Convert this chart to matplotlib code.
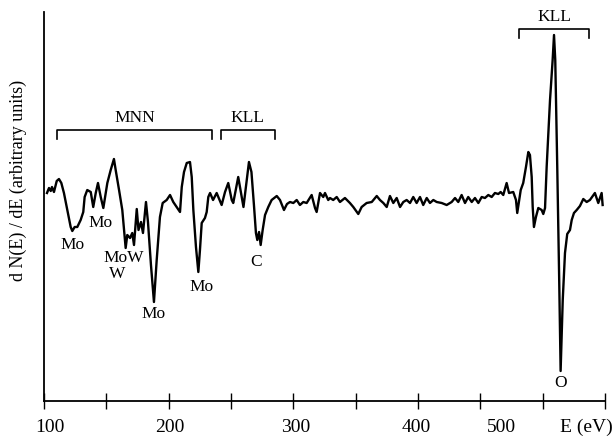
import numpy as np
import matplotlib
matplotlib.use("Agg")
import matplotlib.pyplot as plt

# ==================================
# Data
# ==================================

energy = [
    102.4, 104.0, 105.4, 106.4, 108.0, 110.2, 112.0, 113.9, 116.0, 118.7,
    121.4, 122.7, 124.6, 126.7, 129.4, 131.5, 132.6, 134.7, 137.5, 139.5,
    141.5, 143.3, 145.5, 147.6, 150.8, 153.5, 156.1, 157.5, 160.2, 162.8,
    164.7, 165.5, 166.8, 169.0, 170.8, 172.2, 174.4, 175.8, 177.8, 179.4,
    181.8, 183.4, 185.8, 188.2, 190.4, 193.0, 195.2, 198.4, 201.1, 203.7,
    206.4, 209.1, 210.5, 212.3, 214.5, 217.1, 218.5, 219.8, 221.9, 223.8,
    225.1, 226.5, 229.1, 230.5, 231.8, 233.2, 235.6, 238.5, 242.5, 245.2,
    247.8, 250.6, 251.8, 255.8, 260.0, 264.4, 266.4, 268.4, 270.0, 271.1,
    272.5, 273.8, 275.4, 277.3, 279.9, 282.6, 286.7, 289.3, 292.5, 294.9,
    297.3, 300.0, 302.7, 305.3, 308.0, 310.7, 314.7, 317.4, 318.7, 321.4,
    324.0, 325.4, 328.0, 329.4, 332.0, 334.8, 337.4, 341.4, 345.4, 348.1,
    352.1, 354.8, 358.8, 362.9, 366.9, 369.5, 372.2, 374.9, 377.5, 380.2,
    382.9, 385.6, 388.2, 390.9, 393.6, 396.2, 398.9, 401.6, 404.2, 407.0,
    409.6, 412.3, 415.0, 419.0, 423.0, 427.0, 429.7, 432.3, 435.0, 437.7,
    440.3, 443.1, 445.7, 448.4, 451.1, 453.7, 456.4, 459.1, 461.7, 464.4,
    466.3, 468.4, 471.1, 473.0, 476.4, 478.6, 479.6, 481.2, 482.4, 484.4,
    486.6, 488.5, 489.8, 491.2, 492.0, 493.0, 494.6, 496.5, 499.2, 500.5,
    501.9, 503.2, 505.9, 508.0, 509.1, 510.1, 511.7, 513.3, 514.4, 516.1,
    517.9, 519.7, 521.9, 523.3, 525.1, 527.3, 529.9, 532.6, 535.3, 537.9,
    541.9, 544.6, 547.3, 548.1,
]

signal = [
    7, 12, 9, 13, 8, 19, 21, 17, 7, -10,
    -27, -31, -27, -27, -20, -12, 3, 10, 8, -7,
    7, 17, 3, -8, 17, 30, 41, 30, 10, -10,
    -37, -48, -35, -38, -33, -45, -9, -30, -22, -33,
    -2, -22, -65, -102, -60, -17, -3, 0, 5, -2,
    -7, -12, 13, 28, 37, 38, 23, -10, -47, -72,
    -50, -23, -18, -12, 3, 7, 0, 7, -5, 8,
    17, 0, -3, 23, -7, 38, 28, -5, -33, -40,
    -32, -45, -30, -15, -7, 0, 4, 0, -10, -4,
    -2, -3, 0, -5, -2, -3, 5, -8, -12, 7,
    3, 7, 0, 2, 0, 3, -2, 2, -3, -7,
    -14, -7, -3, -2, 4, 0, -3, -7, 4, -3,
    2, -7, -2, 0, -3, 3, -3, 3, -5, 2,
    -3, 0, -2, -3, -5, -2, 2, -2, 5, -3,
    3, -2, 2, -3, 3, 2, 5, 3, 7, 6,
    8, 5, 17, 7, 8, 0, -13, 0, 10, 17,
    33, 48, 45, 23, -7, -27, -17, -8, -10, -14,
    -8, 33, 100, 140, 165, 140, 33, -83, -171, -100,
    -53, -34, -30, -20, -13, -10, -6, 1, -2, 0,
    7, -3, 7, -5,
]

# peak assignments: (label, energy, level)
peak_labels = ["Mo", "Mo", "MoW", "W", "Mo", "Mo", "C", "O"]
peak_energy = [123.0, 145.5, 163.6, 158.8, 188.2, 226.5, 270.0, 514.4]
peak_level = [-45, -23, -58, -74, -114, -87, -62, -183]

# transition brackets: (label, start, end)
group_labels = ["MNN", "KLL", "KLL"]
group_start = [110.7, 241.7, 481.2]
group_end = [235.0, 285.3, 537.4]
group_level = [70, 70, 171]

tick_pos = list(range(100, 551, 50))
label_text = ["100", "200", "300", "400", "500", "E (eV)"]
label_pos = [104.8, 201.0, 302.0, 398.4, 466.6, 534.7]

# ==================================
# Figure
# ==================================

plt.rcParams["font.family"] = ["Liberation Serif", "DejaVu Serif"]

fig = plt.figure(figsize=(6.16, 4.44), dpi=100)
ax = fig.add_axes([44 / 616, 1 - 401 / 444, (605 - 44) / 616, (401 - 12) / 444])

ax.plot(energy, signal, color="black", lw=1.7, solid_joinstyle="round")

ax.set_xlim(100, 550)
ax.set_ylim(-201, 188)

for s in ["top", "right"]:
    ax.spines[s].set_visible(False)
ax.spines["left"].set_linewidth(1.3)
ax.spines["bottom"].set_linewidth(1.3)

ax.set_yticks([])
ax.set_xticks(tick_pos)
ax.set_xticklabels([])
ax.tick_params(axis="x", direction="inout", length=11, width=1.0)

trans = ax.get_xaxis_transform()
for txt, xp in zip(label_text, label_pos):
    ax.text(xp, -0.069, txt, transform=trans, ha="center", va="center",
            fontsize=14, clip_on=False)

# peak labels
for txt, xp, yp in zip(peak_labels, peak_energy, peak_level):
    ax.text(xp, yp, txt, ha="center", va="center", fontsize=12.5)

# brackets
for txt, x0, x1, yb in zip(group_labels, group_start, group_end, group_level):
    ax.plot([x0, x0, x1, x1], [yb - 9, yb, yb, yb - 9], color="black", lw=1.2,
            clip_on=False)
    ax.text((x0 + x1) / 2, yb + 12, txt, ha="center", va="center",
            fontsize=12.5)

fig.text(18 / 616, 1 - 180 / 444, "d N(E) / dE (arbitrary units)",
         rotation=90, ha="center", va="center", fontsize=13)

fig.savefig("out.png", dpi=100)
